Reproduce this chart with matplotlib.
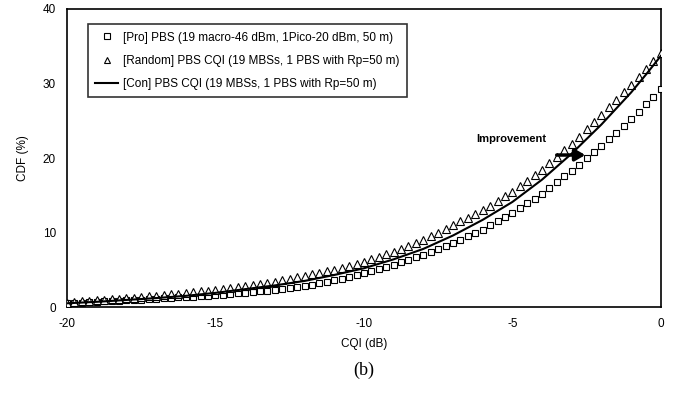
import numpy as np
import matplotlib.pyplot as plt

plt.rcParams['font.family'] = ['Liberation Sans', 'DejaVu Sans']
plt.rcParams['axes.unicode_minus'] = False

# CQI grid (dB) for the marker series, 0.25 dB apart
cqi = np.arange(-20, 0.001, 0.25)

# [Random] PBS CQI - triangles
cdf_random = [
    0.60, 0.67, 0.75, 0.82,
    0.90, 0.97, 1.05, 1.12,
    1.20, 1.27, 1.35, 1.42,
    1.50, 1.60, 1.70, 1.80,
    1.90, 2.00, 2.10, 2.20,
    2.30, 2.42, 2.55, 2.67,
    2.80, 2.95, 3.10, 3.25,
    3.40, 3.60, 3.80, 4.00,
    4.20, 4.40, 4.60, 4.80,
    5.00, 5.27, 5.55, 5.82,
    6.10, 6.42, 6.75, 7.07,
    7.40, 7.80, 8.20, 8.60,
    9.00, 9.50, 10.00, 10.50,
    11.00, 11.50, 12.00, 12.50,
    13.00, 13.62, 14.25, 14.87,
    15.50, 16.22, 16.95, 17.67,
    18.40, 19.27, 20.15, 21.02,
    21.90, 22.87, 23.85, 24.82,
    25.80, 26.80, 27.80, 28.80,
    29.80, 30.87, 31.95, 33.02,
    34.10,
]

# [Pro] PBS - squares
cdf_pro = [
    0.50, 0.55, 0.60, 0.65,
    0.70, 0.75, 0.80, 0.85,
    0.90, 0.95, 1.00, 1.05,
    1.10, 1.16, 1.22, 1.29,
    1.35, 1.41, 1.48, 1.54,
    1.60, 1.67, 1.75, 1.82,
    1.90, 2.00, 2.10, 2.20,
    2.30, 2.42, 2.55, 2.67,
    2.80, 3.00, 3.20, 3.40,
    3.60, 3.82, 4.05, 4.27,
    4.50, 4.80, 5.10, 5.40,
    5.70, 6.02, 6.35, 6.67,
    7.00, 7.40, 7.80, 8.20,
    8.60, 9.05, 9.50, 9.95,
    10.40, 10.95, 11.50, 12.05,
    12.60, 13.25, 13.90, 14.55,
    15.20, 15.97, 16.75, 17.52,
    18.30, 19.12, 19.95, 20.77,
    21.60, 22.50, 23.40, 24.30,
    25.20, 26.20, 27.20, 28.20,
    29.20,
]

# [Con] PBS CQI - solid line, 0.5 dB apart
cqi_con = np.arange(-20, 0.001, 0.5)
cdf_con = [
    0.50, 0.60, 0.70, 0.82, 0.95, 1.07, 1.20, 1.35, 1.50, 1.70,
    1.90, 2.15, 2.40, 2.65, 2.90, 3.20, 3.50, 3.90, 4.30, 4.75,
    5.20, 5.80, 6.40, 7.10, 7.80, 8.70, 9.60, 10.65, 11.70, 12.90,
    14.10, 15.60, 17.10, 18.85, 20.60, 22.55, 24.50, 26.65, 28.80, 31.20,
    33.70,
]

labels = [
    '[Pro] PBS (19 macro-46 dBm, 1Pico-20 dBm, 50 m)',
    '[Random] PBS CQI (19 MBSs, 1 PBS with Rp=50 m)',
    '[Con] PBS CQI (19 MBSs, 1 PBS with Rp=50 m)',
]

fig = plt.figure(figsize=(6.75, 3.96), dpi=100)
ax = fig.add_axes([0.0993, 0.2247, 0.8797, 0.7526])

ax.plot(cqi, cdf_pro, ls='none', marker='s', ms=5, mfc='white',
        mec='black', mew=0.8, label=labels[0], zorder=3)
ax.plot(cqi, cdf_random, ls='none', marker='^', ms=5.5, mfc='white',
        mec='black', mew=0.8, label=labels[1], zorder=3)
ax.plot(cqi_con, cdf_con, color='black', lw=1.5, label=labels[2], zorder=4)

ax.annotate('', xy=(-2.45, 20.4), xytext=(-3.6, 20.4),
            arrowprops=dict(arrowstyle='-|>,head_width=0.35,head_length=0.6',
                            color='black', lw=2.5), zorder=5)
ax.text(-5.05, 22.5, 'Improvement', fontsize=8, fontweight='bold',
        ha='center', va='center')

ax.set_xlim(-20, 0)
ax.set_ylim(0, 40)
ax.set_xticks([-20, -15, -10, -5, 0])
ax.set_yticks([0, 10, 20, 30, 40])
ax.tick_params(length=0, labelsize=8.5, pad=8)
for s in ax.spines.values():
    s.set_linewidth(1.2)

ax.set_xlabel('CQI (dB)', fontsize=8.5, labelpad=6)
ax.set_ylabel('CDF (%)', fontsize=8.5, labelpad=10)

leg = ax.legend(loc='upper left', bbox_to_anchor=(0.025, 0.968), fontsize=8.5,
                frameon=True, fancybox=False, edgecolor='black',
                handlelength=2.0, handletextpad=0.4, borderpad=0.6,
                labelspacing=0.95, markerscale=0.8)
leg.get_frame().set_linewidth(1.2)

fig.text(0.539, 0.065, '(b)', fontsize=13, family='Liberation Serif',
         ha='center', va='center')

fig.savefig('out.png', dpi=100)
